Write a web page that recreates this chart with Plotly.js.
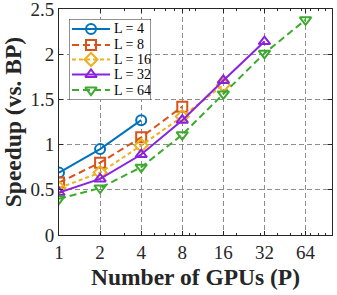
<!DOCTYPE html>
<html>
<head>
<meta charset="utf-8">
<script src="https://cdn.plot.ly/plotly-3.0.1.min.js"></script>
<style>html,body{margin:0;padding:0;background:#fff;}#chart{width:337px;height:295px;}</style>
</head>
<body>
<div id="chart"></div>
<script>
const gpus = [1, 2, 4, 8, 16, 32, 64];
const xTickLabels = ['1', '2', '4', '8', '16', '32', '64'];
const yTickVals = [0, 0.5, 1, 1.5, 2, 2.5];
const yTickLabels = ['0', '0.5', '1', '1.5', '2', '2.5'];
const seriesNames = ['L = 4', 'L = 8', 'L = 16', 'L = 32', 'L = 64'];
const speedupL4 = [0.69, 0.95, 1.27];
const speedupL8 = [0.58, 0.80, 1.08, 1.42];
const speedupL16 = [0.52, 0.69, 0.99, 1.31, 1.66];
const speedupL32 = [0.47, 0.62, 0.89, 1.27, 1.71, 2.14];
const speedupL64 = [0.40, 0.52, 0.75, 1.11, 1.56, 2.01, 2.38];

const allY = [speedupL4, speedupL8, speedupL16, speedupL32, speedupL64];
const colors = ['#0072BD', '#D95319', '#EDB120', '#8A22E0', '#3DAA2E'];
const symbols = ['circle-open', 'square-open', 'diamond-open', 'triangle-up-open', 'triangle-down-open'];
const dashes = ['solid', '7px,4px', '4px,3px', 'solid', '7px,4px'];

const serif = "'Liberation Serif', 'Times New Roman', serif";

const traces = allY.map((ys, i) => ({
  x: gpus.slice(0, ys.length),
  y: ys,
  name: seriesNames[i],
  type: 'scatter',
  mode: 'lines+markers',
  showlegend: false,
  line: {color: colors[i], width: 2, dash: dashes[i]},
  marker: {symbol: symbols[i], size: 10, color: colors[i], line: {color: colors[i], width: 2}}
}));

// Legend drawn in a small inset axes (box units: 82 wide, 81 tall)
const legendRowY = [10, 26, 40.5, 55.5, 71];
const annotations = [];
seriesNames.forEach((name, i) => {
  traces.push({
    x: [3, 41], y: [legendRowY[i], legendRowY[i]],
    xaxis: 'x2', yaxis: 'y2', type: 'scatter', mode: 'lines', showlegend: false, hoverinfo: 'skip',
    line: {color: colors[i], width: 2, dash: dashes[i]}
  });
  traces.push({
    x: [22], y: [legendRowY[i]],
    xaxis: 'x2', yaxis: 'y2', type: 'scatter', mode: 'markers', showlegend: false, hoverinfo: 'skip',
    marker: {symbol: symbols[i], size: 10, color: colors[i], line: {color: colors[i], width: 2}}
  });
  annotations.push({
    x: 43, y: legendRowY[i], xref: 'x2', yref: 'y2', text: name, showarrow: false,
    xanchor: 'left', yanchor: 'middle', font: {family: serif, size: 14, color: '#000'}
  });
});

const layout = {
  width: 337, height: 295,
  margin: {l: 59, r: 5, t: 9, b: 60},
  paper_bgcolor: '#fff', plot_bgcolor: '#fff',
  font: {family: serif, size: 19, color: '#262626'},
  showlegend: false,
  annotations: annotations,
  shapes: [{
    type: 'rect', xref: 'x2', yref: 'y2', x0: 0, x1: 82, y0: 0, y1: 81,
    fillcolor: '#fff', line: {color: '#262626', width: 1}, layer: 'below'
  }],
  xaxis: {
    type: 'log', range: [0, 2],
    tickvals: gpus, ticktext: xTickLabels,
    ticks: 'inside', ticklen: 4, tickcolor: '#262626',
    minor: {tickvals: [3, 5, 6, 7, 9, 10, 20, 30, 40, 50, 60, 70, 80, 90], ticks: 'inside', ticklen: 2, tickcolor: '#262626', showgrid: false},
    showline: true, linecolor: '#262626', linewidth: 1, mirror: 'ticks',
    showgrid: true, gridcolor: '#8c8c8c', griddash: '5px,3px', gridwidth: 1,
    zeroline: false, ticklabeloverflow: 'allow',
    tickfont: {family: serif, size: 19, color: '#262626'},
    title: {text: '<b>Number of GPUs (P)</b>', font: {family: serif, size: 23.5, color: '#262626'}, standoff: 6}
  },
  yaxis: {
    range: [0, 2.5], tickvals: yTickVals, ticktext: yTickLabels,
    ticks: 'inside', ticklen: 4, tickcolor: '#262626',
    showline: true, linecolor: '#262626', linewidth: 1, mirror: 'ticks',
    showgrid: true, gridcolor: '#8c8c8c', griddash: '5px,3px', gridwidth: 1,
    zeroline: false, ticklabeloverflow: 'allow',
    tickfont: {family: serif, size: 19, color: '#262626'},
    title: {text: '<b>Speedup (vs. BP)</b>', font: {family: serif, size: 23.5, color: '#262626'}, standoff: 2}
  },
  xaxis2: {
    domain: [10 / 273, 92 / 273], range: [0, 82], anchor: 'y2',
    showgrid: false, zeroline: false, showticklabels: false, ticks: '', showline: false
  },
  yaxis2: {
    domain: [135 / 226, 216 / 226], range: [81, 0], anchor: 'x2',
    showgrid: false, zeroline: false, showticklabels: false, ticks: '', showline: false
  }
};

Plotly.newPlot('chart', traces, layout, {displayModeBar: false, staticPlot: true});
</script>
</body>
</html>
